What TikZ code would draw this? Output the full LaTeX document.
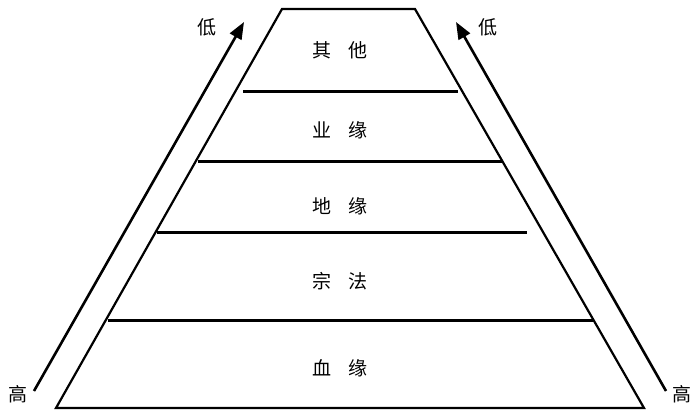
\documentclass[tikz,border=0pt]{standalone}
\usepackage{fontspec}
\newfontfamily\cjk{Noto Sans CJK SC}
\usetikzlibrary{arrows.meta}

\begin{document}
\begin{tikzpicture}[x=1pt,y=1pt,yscale=-1,xscale=1,
  layer/.style={line width=2.2pt},
  level/.style={line width=2.6pt,-{Triangle[length=17pt,width=13pt]}},
  lbl/.style={font=\cjk\fontsize{19}{19}\selectfont,inner sep=0pt}]
\useasboundingbox (0,0) rectangle (700,417);

%Shape: Trapezoid
\coordinate (tl) at (282,9);
\coordinate (tr) at (415,9);
\coordinate (br) at (644,408);
\coordinate (bl) at (56,408);
\draw [layer,line join=miter] (tl) -- (tr) -- (br) -- (bl) -- cycle ;

%Straight Lines
\coordinate (l1a) at (243,91.5);  \coordinate (l1b) at (458,91.5);
\coordinate (l2a) at (198,161.5); \coordinate (l2b) at (502,161.5);
\coordinate (l3a) at (157,232.5); \coordinate (l3b) at (527,232.5);
\coordinate (l4a) at (108,320.5); \coordinate (l4b) at (593,320.5);
\draw [layer] (l1a) -- (l1b) ;
\draw [layer] (l2a) -- (l2b) ;
\draw [layer] (l3a) -- (l3b) ;
\draw [layer] (l4a) -- (l4b) ;

%Arrows
\coordinate (la) at (34,391);
\coordinate (lb) at (244,22);
\coordinate (ra) at (666,391);
\coordinate (rb) at (456,22);
\draw [level] (la) -- (lb) ;
\draw [level] (ra) -- (rb) ;

% Text Node
\node [lbl] (qita) at (340,50) {其\hspace{0.9em}他};
% Text Node
\node [lbl] (yeyuan) at (340,130) {业\hspace{0.9em}缘};
% Text Node
\node [lbl] (diyuan) at (340,206) {地\hspace{0.9em}缘};
% Text Node
\node [lbl] (zongfa) at (340,281) {宗\hspace{0.9em}法};
% Text Node
\node [lbl] (xueyuan) at (340,368) {血\hspace{0.9em}缘};
% Text Node
\node [lbl] (dil) at (207,27) {低};
\node [lbl] (dir) at (488,27) {低};
\node [lbl] (gaol) at (18,394) {高};
\node [lbl] (gaor) at (682,394) {高};

\end{tikzpicture}
\end{document}
